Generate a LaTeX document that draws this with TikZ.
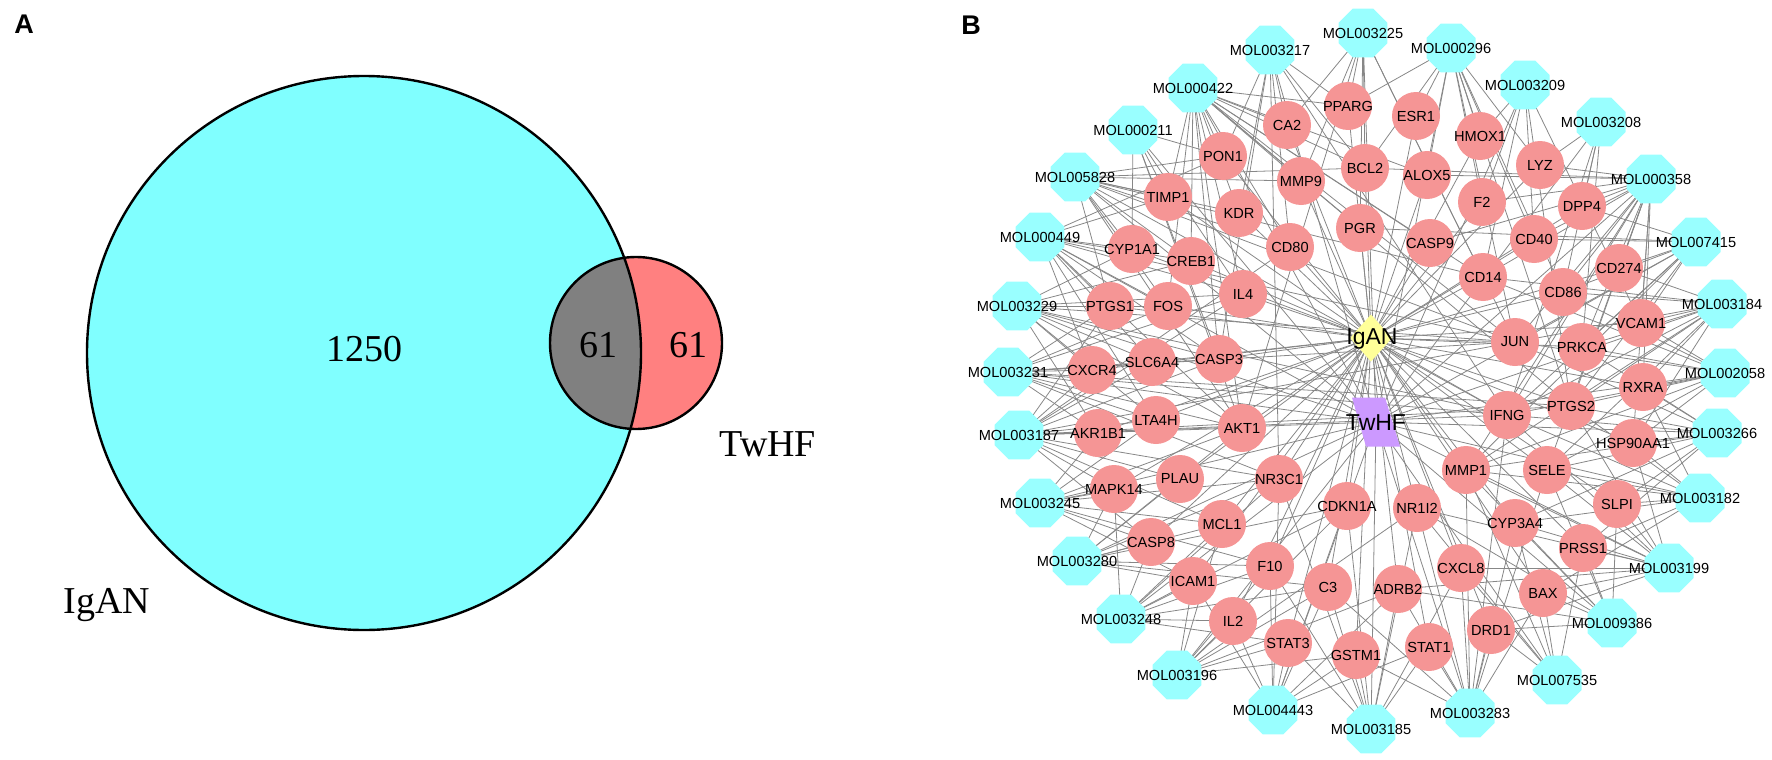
\documentclass[tikz,border=0pt]{standalone}
\usepackage{fontspec}
\setmainfont{Liberation Serif}
\setsansfont{Liberation Sans}
\usetikzlibrary{shapes.geometric,backgrounds}
\definecolor{venncyan}{HTML}{80FFFF}
\definecolor{vennred}{HTML}{FF8080}
\definecolor{venngray}{HTML}{808080}
\definecolor{tpink}{HTML}{F59595}
\definecolor{mcyan}{HTML}{99FFFF}
\definecolor{dyellow}{HTML}{FFFF99}
\definecolor{hpurple}{HTML}{CC99FF}
\tikzset{
  vennlab/.style={font=\fontsize{19pt}{19pt}\selectfont\rmfamily, inner sep=0, anchor=base},
  panel/.style={font=\fontsize{13.5pt}{13.5pt}\selectfont\sffamily\bfseries, inner sep=0},
  tnode/.style={circle, fill=tpink, minimum size=24pt, inner sep=0},
  mnode/.style={regular polygon, regular polygon sides=8, fill=mcyan, minimum size=26.5pt, inner sep=0},
  tlab/.style={font=\fontsize{7.3pt}{7.3pt}\selectfont\sffamily, inner sep=0, text=black},
  biglab/.style={font=\fontsize{11.5pt}{11.5pt}\selectfont\sffamily, inner sep=0},
  edge/.style={draw=black!47, line width=0.4pt},
  vennline/.style={draw=black, line width=1.2pt}
}
\begin{document}
\begin{tikzpicture}[x=0.5pt, y=-0.5pt]
\useasboundingbox (0,0) rectangle (1772,760);
% ---------------- Panel A ----------------
\node[panel] (labA) at (24,24) {A};
\fill[venncyan] (364,353) circle[radius=138.5pt];
\fill[vennred] (636,343) circle[radius=43pt];
\begin{scope}
  \clip (364,353) circle[radius=138.5pt];
  \fill[venngray] (636,343) circle[radius=43pt];
\end{scope}
\draw[vennline] (364,353) circle[radius=138.5pt];
\draw[vennline] (636,343) circle[radius=43pt];
\node[vennlab] (n1250) at (364,361) {1250};
\node[vennlab] (n61a) at (598,357) {61};
\node[vennlab] (n61b) at (688,357) {61};
\node[vennlab, anchor=base west] (lIgAN) at (63,613) {IgAN};
\node[vennlab, anchor=base west] (lTwHF) at (719,456) {TwHF};
% ---------------- Panel B ----------------
\node[panel] (labB) at (971,25) {B};
\foreach \n/\x/\y in {PPARG/1348/106, ESR1/1416/116, HMOX1/1480/136, CA2/1287/125,
  PON1/1223/156, BCL2/1365/168, ALOX5/1427/175, LYZ/1540/165, MMP9/1301/181,
  TIMP1/1168/197, KDR/1239/213, F2/1482/202, DPP4/1582/206, CD80/1290/247,
  PGR/1360/228, CASP9/1430/243, CD40/1534/239, CYP1A1/1132/249, CREB1/1191/261,
  CD14/1483/277, CD274/1619/268, IL4/1243/294, PTGS1/1110/306, FOS/1168/306,
  CD86/1563/292, VCAM1/1641/323, SLC6A4/1152/362, CASP3/1219/359, CXCR4/1092/370,
  JUN/1515/342, PRKCA/1582/347, RXRA/1643/387, AKR1B1/1098/433, LTA4H/1156/420,
  AKT1/1242/428, IFNG/1507/415, PTGS2/1571/406, HSP90AA1/1633/443, MAPK14/1114/489,
  PLAU/1180/479, NR3C1/1279/479, MMP1/1466/470, SELE/1547/470, SLPI/1617/504,
  CASP8/1151/542, MCL1/1222/524, CDKN1A/1347/506, NR1I2/1417/508, CYP3A4/1515/523,
  PRSS1/1583/548, ICAM1/1193/581, F10/1270/566, C3/1328/587, CXCL8/1461/568,
  BAX/1543/593, IL2/1233/621, ADRB2/1398/589, DRD1/1491/630, STAT3/1288/643,
  GSTM1/1356/655, STAT1/1429/647}
  {\node[tnode, label={[tlab]center:\n}] (t\n) at (\x,\y) {};}
\foreach \n/\x/\y in {003225/1363/33, 003217/1270/50, 000296/1451/48, 000422/1193/88,
  003209/1525/85, 000211/1133/130, 003208/1601/122, 005828/1075/177, 000358/1651/179,
  000449/1040/237, 007415/1696/242, 003229/1017/306, 003184/1722/304, 003231/1008/372,
  002058/1725/373, 003187/1019/435, 003266/1717/433, 003245/1040/503, 003182/1700/498,
  003280/1077/561, 003199/1669/568, 003248/1121/619, 009386/1612/623, 003196/1177/675,
  007535/1557/680, 004443/1273/710, 003283/1470/713, 003185/1371/729}
  {\node[mnode, label={[tlab]center:MOL\n}] (m\n) at (\x,\y) {};}
% disease and herb nodes
\coordinate (IgAN) at (1371,338);
\fill[dyellow] ([shift={(0,-23.5)}]IgAN) -- ([shift={(21,0)}]IgAN) -- ([shift={(0,23.5)}]IgAN) -- ([shift={(-21,0)}]IgAN) -- cycle;
\node[biglab] (IgANlab) at (1372,339) {IgAN};
\coordinate (TwHF) at (1376,422);
\fill[hpurple] ([shift={(-24,-24.5)}]TwHF) -- ([shift={(9,-24.5)}]TwHF) -- ([shift={(24,24.5)}]TwHF) -- ([shift={(-10,24.5)}]TwHF) -- cycle;
\node[biglab] (TwHFlab) at (1376,423) {TwHF};
% edges
\begin{scope}[on background layer]
\foreach \t in {PPARG,ESR1,HMOX1,CA2,PON1,BCL2,ALOX5,LYZ,MMP9,TIMP1,KDR,F2,DPP4,CD80,
  PGR,CASP9,CD40,CYP1A1,CREB1,CD14,CD274,IL4,PTGS1,FOS,CD86,VCAM1,SLC6A4,CASP3,CXCR4,
  JUN,PRKCA,RXRA,AKR1B1,LTA4H,AKT1,IFNG,PTGS2,HSP90AA1,MAPK14,PLAU,NR3C1,MMP1,SELE,SLPI,
  CASP8,MCL1,CDKN1A,NR1I2,CYP3A4,PRSS1,ICAM1,F10,C3,CXCL8,BAX,IL2,ADRB2,DRD1,STAT3,
  GSTM1,STAT1}
  {\draw[edge] (IgAN) -- (t\t.center);}
\foreach \m in {003225,003217,000296,000422,003209,000211,003208,005828,000358,000449,
  007415,003229,003184,003231,002058,003187,003266,003245,003182,003280,003199,003248,
  009386,003196,007535,004443,003283,003185}
  {\draw[edge] (TwHF) -- (m\m.center);}
\foreach \m/\ts in {
  003225/{PPARG,CA2,MMP9,BCL2,PGR,CD14,JUN,AKT1},
  003217/{CA2,PON1,PPARG,KDR,CD80,BCL2,IFNG,NR3C1,CASP3},
  000296/{ESR1,HMOX1,PPARG,ALOX5,F2,LYZ,CD40,BCL2,PTGS2,JUN,CD86},
  000422/{PON1,TIMP1,CA2,PPARG,MMP9,KDR,CD80,CREB1,BCL2,PGR,CASP9,ALOX5,CD14,IL4,FOS,CASP3,AKT1,JUN,PTGS2},
  003209/{HMOX1,F2,CD40,PTGS2,VCAM1,CD14},
  000211/{PON1,TIMP1,CYP1A1,AKT1,CASP3,IL4},
  003208/{LYZ,DPP4,PRKCA,CD86,IFNG},
  005828/{TIMP1,PON1,MMP9,KDR,CYP1A1,PTGS1,CREB1,FOS,BCL2,CD80,AKT1,JUN,CD14,IFNG},
  000358/{LYZ,DPP4,CD274,CD86,VCAM1,CD40,BCL2,ALOX5,PRKCA,RXRA,JUN,PTGS2,HSP90AA1,CD14,F2,IFNG,MMP1,SELE,CASP9},
  000449/{CYP1A1,PTGS1,CREB1,FOS,CXCR4,SLC6A4,IL4,TIMP1,PON1,AKT1,LTA4H,CASP3,JUN},
  007415/{CD274,DPP4,VCAM1,CD86,CD40,PGR,PRKCA,PTGS2,JUN,IFNG,MMP1},
  003229/{PTGS1,CYP1A1,FOS,CXCR4,SLC6A4,CREB1,AKR1B1,LTA4H,CASP3,AKT1,IL4,IFNG,JUN},
  003184/{VCAM1,CD274,RXRA,PRKCA,CD86,JUN,PTGS2,CD14,IFNG,HSP90AA1,SELE,MMP1},
  003231/{CXCR4,SLC6A4,CASP3,PTGS1,AKR1B1,LTA4H,AKT1,FOS,IL4,JUN,IFNG,PTGS2,NR3C1},
  002058/{RXRA,VCAM1,HSP90AA1,PTGS2,PRKCA,JUN,IFNG,SELE,MMP1,CD14,CD86},
  003187/{AKR1B1,LTA4H,AKT1,CXCR4,SLC6A4,CASP3,MAPK14,PLAU,NR3C1,PTGS1,MCL1,CASP8,IL4,CD80,IFNG,PTGS2,JUN},
  003266/{HSP90AA1,RXRA,PTGS2,SELE,SLPI,MMP1,PRKCA,IFNG,JUN,CYP3A4,PRSS1},
  003245/{MAPK14,CASP8,PLAU,AKR1B1,MCL1,ICAM1,NR3C1,F10,AKT1,LTA4H},
  003182/{SLPI,HSP90AA1,PRSS1,SELE,RXRA,PTGS2,MMP1,IFNG,CYP3A4,BAX},
  003280/{CASP8,MAPK14,ICAM1,MCL1,F10,PLAU,NR3C1,AKT1,C3,CDKN1A},
  003199/{PRSS1,SLPI,CYP3A4,CXCL8,BAX,HSP90AA1,SELE,MMP1,PTGS2,NR1I2,IFNG,DRD1,ADRB2},
  003248/{ICAM1,IL2,CASP8,MAPK14,F10,MCL1,NR3C1,C3,CDKN1A,STAT3},
  009386/{PRSS1,SLPI,BAX,ADRB2,CYP3A4,NR1I2,MMP1,SELE,DRD1},
  003196/{IL2,ICAM1,STAT3,F10,GSTM1,C3,MCL1,CDKN1A,NR1I2,ADRB2},
  007535/{BAX,CYP3A4,DRD1,CXCL8,NR1I2,MMP1,PRSS1},
  004443/{STAT3,IL2,GSTM1,C3,F10,ICAM1,CDKN1A,NR3C1,ADRB2,STAT1},
  003283/{STAT1,DRD1,CXCL8,ADRB2,GSTM1,CYP3A4,BAX,NR1I2,C3,MMP1,IFNG,SELE},
  003185/{GSTM1,STAT1,STAT3,ADRB2,C3,CDKN1A,NR1I2,F10,NR3C1,CXCL8}}
  {\foreach \t in \ts {\draw[edge] (m\m.center) -- (t\t.center);}}
\end{scope}
\end{tikzpicture}
\end{document}
